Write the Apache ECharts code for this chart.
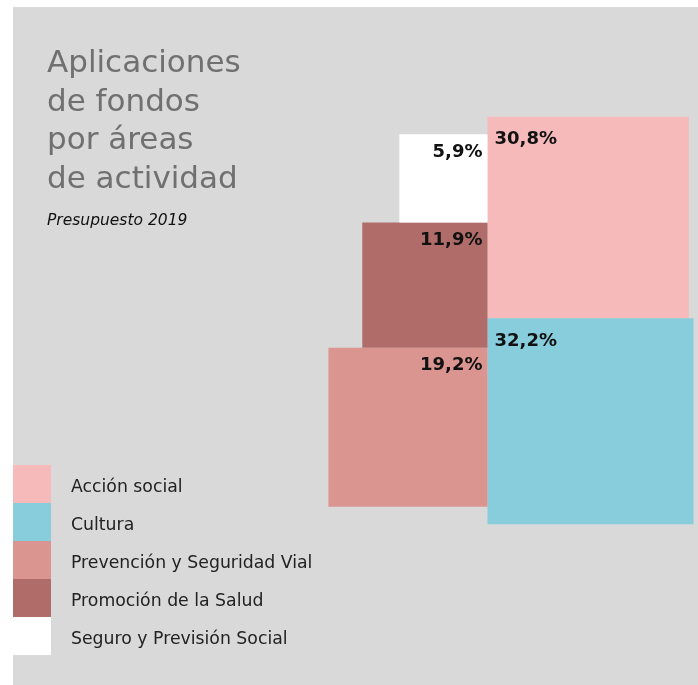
<!DOCTYPE html>
<html><head><meta charset="utf-8">
<script src="https://cdn.jsdelivr.net/npm/echarts@6/dist/echarts.min.js"></script>
<style>
html,body{margin:0;padding:0;background:#fff}
#c{width:698px;height:685px;background:linear-gradient(#d9d9d9,#d9d9d9) no-repeat 13px 7px/685px 678px #fff}
</style>
</head><body><div id="c"></div>
<script>
const categories = ['Acción social','Cultura','Prevención y Seguridad Vial','Promoción de la Salud','Seguro y Previsión Social'];
const values = [30.8, 32.2, 19.2, 11.9, 5.9];
const valueLabels = ['30,8%','32,2%','19,2%','11,9%','5,9%'];
const colors = ['#f7baba','#87cddb','#db9591','#b06c68','#ffffff'];
const rightStack = ['Acción social','Cultura'];
const leftStack = ['Seguro y Previsión Social','Promoción de la Salud','Prevención y Seguridad Vial'];
const titleText = 'Aplicaciones\nde fondos\npor áreas\nde actividad';
const subtitleText = 'Presupuesto 2019';

const FONT = '"DejaVu Sans"';
const S = 36.3;      // px per sqrt(%)
const CX = 487.5, CY = 320.5, W = 698, H = 685;

function layoutOf(name){
  const right = rightStack.includes(name);
  const stack = right ? rightStack : leftStack;
  const sides = stack.map(n => Math.sqrt(values[categories.indexOf(n)]));
  const total = sides.reduce((a,b)=>a+b,0);
  const i = stack.indexOf(name);
  const top = total/2 - sides.slice(0,i).reduce((a,b)=>a+b,0);
  const s = sides[i];
  return {x0: right?0:-s, x1: right?s:0, y0: top, y1: top-s, right};
}

const series = categories.map((name, k) => ({
  type: 'custom',
  name: name,
  coordinateSystem: 'cartesian2d',
  clip: false,
  itemStyle: {color: colors[k]},
  data: [[values[k]]],
  renderItem: function(params, api){
    const L = layoutOf(name);
    const p0 = api.coord([L.x0, L.y0]);
    const p1 = api.coord([L.x1, L.y1]);
    return {
      type: 'group',
      children: [
        {type:'rect', shape:{x:p0[0], y:p0[1], width:p1[0]-p0[0], height:p1[1]-p0[1]}, style:{fill: colors[k]}},
        {type:'text', z2: 10, style:{
          text: valueLabels[k],
          x: L.right ? p0[0]+7 : p1[0]-5,
          y: p0[1] + (L.right ? 14 : 9),
          align: L.right ? 'left' : 'right',
          verticalAlign: 'top',
          fontFamily: FONT, fontWeight: 'bold', fontSize: 18, fill: '#111'
        }}
      ]
    };
  }
}));

const chart = echarts.init(document.getElementById('c'), null, {renderer:'canvas'});
chart.setOption({
  backgroundColor: 'transparent',
  animation: false,
  title: [
    {text: titleText, left: 47, top: 45, padding: 0, textStyle:{fontFamily: FONT, fontSize: 31, fontWeight: 'normal', color:'#707070', lineHeight: 38.5}},
    {text: subtitleText, left: 47, top: 213, padding: 0, textStyle:{fontFamily: FONT, fontSize: 15.5, fontStyle:'italic', fontWeight:'normal', color:'#111'}}
  ],
  grid: {left: 0, top: 0, width: W, height: H},
  xAxis: {type:'value', min: -CX/S, max: (W-CX)/S, show: false},
  yAxis: {type:'value', min: -(H-CY)/S, max: CY/S, show: false},
  legend: {
    orient: 'vertical', left: 13, top: 465, padding: 0,
    itemWidth: 38, itemHeight: 38, itemGap: 0, icon: 'rect',
    selectedMode: false,
    data: categories,
    formatter: '{t|{name}}',
    textStyle: {
      fontFamily: FONT, fontSize: 17.3, color:'#222', padding:[0,0,0,15],
      rich: {t: {fontFamily: FONT, fontSize: 17.3, color:'#222', padding:[7,0,0,0]}}
    }
  },
  series: series
});
</script>
</body></html>
